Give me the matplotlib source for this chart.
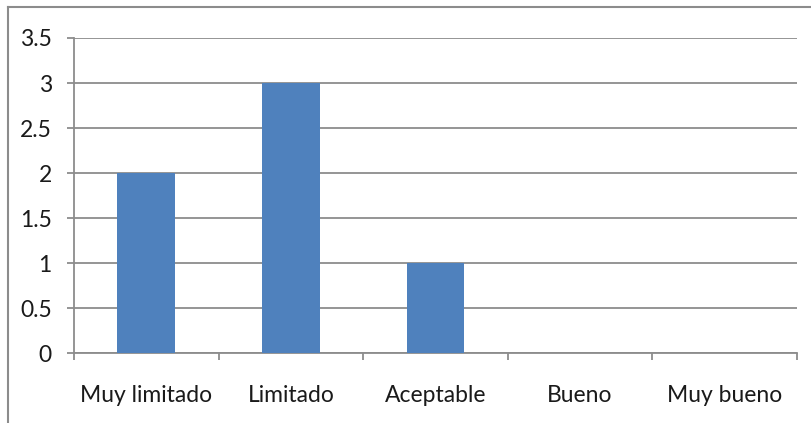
import matplotlib.pyplot as plt
from matplotlib.lines import Line2D
import numpy as np

# valores
categorias = ["Muy limitado", "Limitado", "Aceptable", "Bueno", "Muy bueno"]
valores = [2, 3, 1, 0, 0]
yticks = [0, 0.5, 1, 1.5, 2, 2.5, 3, 3.5]

plt.rcParams['font.family'] = ['Lato', 'DejaVu Sans']

W, H = 811, 423
fig = plt.figure(figsize=(W / 100, H / 100), dpi=100)
ax = fig.add_axes([74 / W, 70 / H, (797 - 74) / W, (353 - 38) / H])

gris = '#8c8c8c'
x = np.arange(len(categorias))
ax.bar(x, valores, width=0.4, color='#4f81bd', zorder=3)

ax.set_xlim(-0.5, len(categorias) - 0.5)
ax.set_ylim(0, 3.5)
ax.set_yticks(yticks)
ax.set_yticklabels([f"{v:g}" for v in yticks])
ax.set_xticks(x)
ax.set_xticklabels(categorias)
ax.set_xticks(np.arange(len(categorias) + 1) - 0.5, minor=True)

ax.grid(axis='y', color=gris, lw=1.3, zorder=0)
ax.tick_params(axis='y', length=5, width=1.3, color=gris, pad=11,
               labelsize=16.5, labelcolor='#1a1a1a')
ax.tick_params(axis='x', which='major', length=0, pad=23,
               labelsize=16.5, labelcolor='#1a1a1a')
ax.tick_params(axis='x', which='minor', length=5, width=1.3, color=gris)

for s in ['top', 'right']:
    ax.spines[s].set_visible(False)
for s in ['left', 'bottom']:
    ax.spines[s].set_color(gris)
    ax.spines[s].set_linewidth(1.3)

# marco exterior del grafico (se corta a la derecha y abajo)
fig.add_artist(Line2D([8 / W, 8 / W], [0, 1 - 7 / H], color=gris, lw=1.5))
fig.add_artist(Line2D([8 / W, 1], [1 - 7 / H, 1 - 7 / H], color=gris, lw=1.5))

fig.savefig("out.png", dpi=100)
